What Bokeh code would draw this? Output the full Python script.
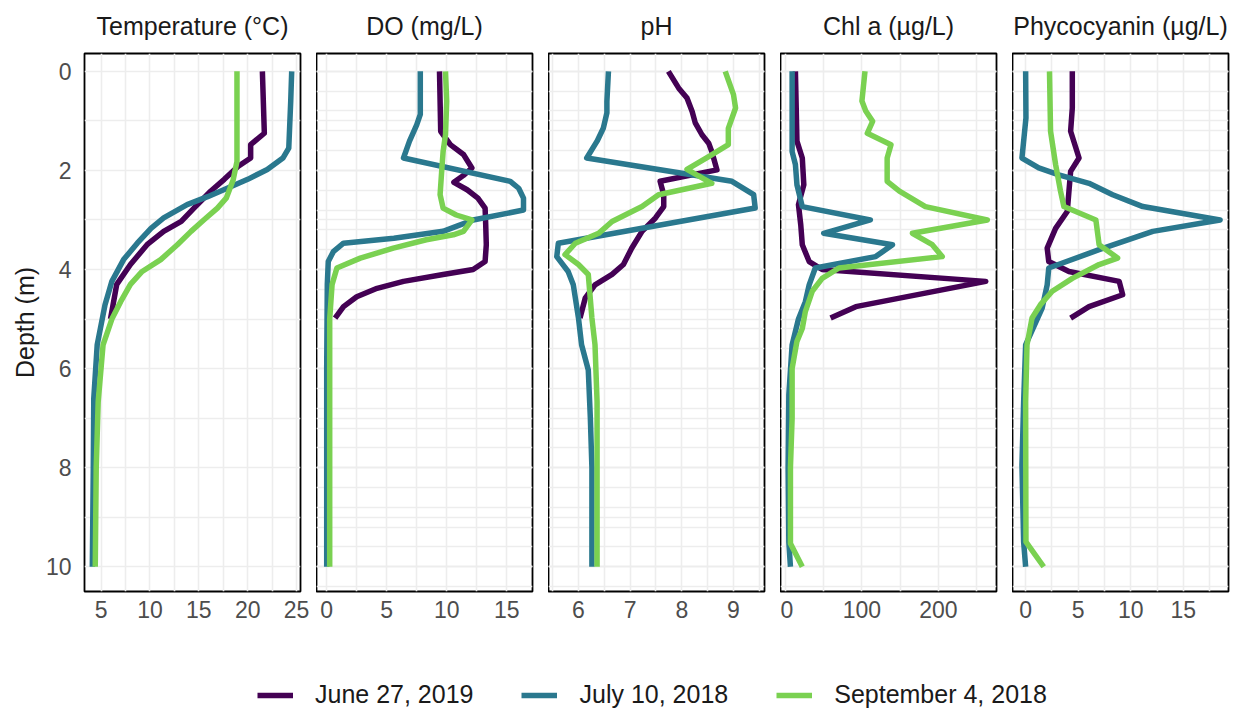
from bokeh.plotting import figure
from bokeh.models import Range1d, FixedTicker, Grid, Legend, LegendItem
from bokeh.layouts import column, row
from bokeh.embed import file_html
from bokeh.resources import INLINE

# ---- profile data (depth in m, value per variable) ----
dates = ["June 27, 2019", "July 10, 2018", "September 4, 2018"]

# Temperature (°C)
temp_jun_depth = [0, 1.25, 1.48, 1.75, 1.92, 2.18, 2.42, 2.76, 3.03, 3.23, 3.5, 3.9, 4.3, 5.0]
temp_jun = [21.5, 21.7, 20.3, 20.3, 19.0, 17.6, 16.2, 14.5, 13.2, 11.4, 9.7, 8.0, 6.6, 5.96]
temp_jul_depth = [0, 0.6, 1.55, 1.75, 1.98, 2.18, 2.36, 2.53, 2.69, 2.96, 3.17, 3.47, 3.8, 4.24, 4.71, 5.52, 6.6, 8.0, 10]
temp_jul = [24.5, 24.4, 24.2, 23.6, 22.0, 20.0, 17.9, 15.9, 13.8, 11.4, 10.1, 8.7, 7.3, 6.1, 5.4, 4.6, 4.25, 4.2, 4.1]
temp_sep_depth = [0, 1.82, 2.2, 2.56, 2.76, 3.0, 3.23, 3.5, 3.8, 4.04, 4.3, 4.65, 5.0, 5.52, 6.67, 8.0, 10]
temp_sep = [18.9, 18.9, 18.5, 17.8, 16.9, 15.5, 14.2, 12.8, 11.1, 9.2, 8.0, 7.0, 6.1, 5.2, 4.7, 4.5, 4.4]

# Dissolved oxygen (mg/L)
do_jun_depth = [0, 1.21, 1.48, 1.68, 1.95, 2.1, 2.24, 2.39, 2.56, 2.76, 3.09, 3.5, 3.84, 4.0, 4.1, 4.24, 4.38, 4.55, 4.75, 4.98]
do_jun = [9.4, 9.5, 10.3, 11.4, 12.1, 11.4, 10.6, 11.7, 12.6, 13.2, 13.25, 13.3, 13.2, 12.2, 9.7, 6.4, 4.2, 2.5, 1.4, 0.7]
do_jul_depth = [0, 0.87, 1.08, 1.41, 1.75, 2.22, 2.36, 2.56, 2.8, 3.0, 3.13, 3.23, 3.37, 3.47, 3.64, 3.84, 4.3, 6.0, 8.0, 10]
do_jul = [7.8, 7.8, 7.5, 6.9, 6.4, 15.3, 16.0, 16.4, 16.4, 12.2, 10.8, 9.7, 5.6, 1.4, 0.55, 0.13, 0.05, 0.0, 0.0, 0.0]
do_sep_depth = [0, 0.6, 1.28, 1.62, 1.95, 2.49, 2.76, 2.9, 3.0, 3.23, 3.3, 3.4, 3.57, 3.77, 3.97, 4.3, 5.0, 7.0, 10]
do_sep = [9.9, 10.0, 9.9, 9.7, 9.6, 9.45, 9.7, 10.8, 12.1, 11.4, 10.55, 8.3, 5.55, 2.8, 0.85, 0.45, 0.25, 0.25, 0.25]

# pH
ph_jun_depth = [0, 0.34, 0.54, 0.81, 1.04, 1.28, 1.45, 1.62, 1.99, 2.22, 2.49, 2.73, 2.96, 3.23, 3.57, 3.9, 4.1, 4.31, 4.58, 4.98]
ph_jun = [7.74, 7.94, 8.1, 8.2, 8.26, 8.39, 8.52, 8.58, 8.68, 7.58, 7.65, 7.65, 7.49, 7.23, 7.03, 6.87, 6.65, 6.32, 6.13, 6.03]
ph_jul_depth = [0, 0.61, 0.84, 1.15, 1.41, 1.75, 2.22, 2.49, 2.76, 3.47, 3.74, 4.04, 4.31, 4.98, 5.52, 6.03, 7.0, 8.0, 10]
ph_jul = [6.58, 6.55, 6.55, 6.48, 6.36, 6.16, 8.97, 9.39, 9.42, 5.61, 5.58, 5.8, 5.9, 6.0, 6.06, 6.19, 6.23, 6.26, 6.26]
ph_sep_depth = [0, 0.47, 0.74, 1.15, 1.48, 1.72, 1.98, 2.26, 2.49, 2.73, 3.03, 3.27, 3.47, 3.7, 3.9, 4.1, 4.98, 5.52, 6.67, 10]
ph_sep = [8.84, 9.0, 9.04, 8.9, 8.9, 8.52, 8.1, 8.58, 7.55, 7.23, 6.65, 6.39, 5.94, 5.74, 6.0, 6.19, 6.26, 6.32, 6.36, 6.36]

# Chlorophyll a (µg/L)
chl_jun_depth = [0, 1.41, 1.75, 2.29, 2.69, 3.1, 3.5, 3.84, 4.0, 4.24, 4.75, 4.98]
chl_jun = [13, 15, 22, 24, 17, 20, 22, 31, 48, 262, 92, 59]
chl_jul_depth = [0, 1.62, 1.88, 2.29, 2.73, 3.0, 3.27, 3.5, 3.74, 3.97, 4.31, 4.65, 5.0, 5.52, 6.53, 8.0, 9.5, 10]
chl_jul = [8.7, 8.7, 13, 15, 22, 111, 50, 140, 118, 39, 31, 26, 17, 8.7, 4.4, 3.5, 4.4, 6.5]
chl_sep_depth = [0, 0.6, 0.8, 1.01, 1.25, 1.48, 1.75, 2.22, 2.42, 2.73, 3.0, 3.27, 3.5, 3.74, 3.97, 4.18, 4.44, 4.85, 5.19, 5.45, 6.0, 7.0, 8.0, 9.53, 10]
chl_sep = [104, 100, 105, 114, 107, 138, 133, 133, 149, 183, 264, 166, 192, 205, 70, 48, 35, 26, 22, 15, 8.7, 8.7, 6.5, 6.5, 22]

# Phycocyanin (µg/L)
pc_jun_depth = [0, 0.74, 1.21, 1.75, 2.02, 2.42, 2.83, 3.17, 3.57, 3.84, 4.04, 4.24, 4.51, 4.75, 4.98]
pc_jun = [4.44, 4.44, 4.28, 5.08, 4.28, 4.12, 3.96, 2.85, 2.05, 2.2, 4.12, 8.9, 9.23, 6.03, 4.28]
pc_jul_depth = [0, 0.94, 1.75, 1.95, 2.09, 2.26, 2.49, 2.73, 3.0, 3.23, 3.6, 3.97, 4.31, 4.78, 5.52, 6.67, 7.95, 9.5, 10]
pc_jul = [0, 0.03, -0.35, 1.25, 3.16, 6.03, 8.28, 11.15, 18.5, 12.1, 6.99, 2.2, 2.05, 1.57, 0, -0.19, -0.35, -0.19, 0]
pc_sep_depth = [0, 1.21, 1.88, 2.42, 2.73, 3.0, 3.5, 3.77, 3.9, 4.18, 4.44, 4.71, 4.98, 5.52, 6.67, 9.5, 10]
pc_sep = [2.27, 2.37, 2.85, 3.32, 3.64, 6.68, 6.99, 8.75, 6.99, 4.44, 2.53, 1.41, 0.61, 0.13, 0, 0.03, 1.72]

# axis ticks
depth_ticks = [0, 2, 4, 6, 8, 10]
depth_minor = [1, 3, 5, 7, 9]

panels = [
    dict(title="Temperature (°C)",
         series=[(temp_jun_depth, temp_jun), (temp_jul_depth, temp_jul), (temp_sep_depth, temp_sep)],
         xr=(3.3, 25.4), ticks=[5, 10, 15, 20, 25], minor=[7.5, 12.5, 17.5, 22.5]),
    dict(title="DO (mg/L)",
         series=[(do_jun_depth, do_jun), (do_jul_depth, do_jul), (do_sep_depth, do_sep)],
         xr=(-0.85, 17.15), ticks=[0, 5, 10, 15], minor=[2.5, 7.5, 12.5]),
    dict(title="pH",
         series=[(ph_jun_depth, ph_jun), (ph_jul_depth, ph_jul), (ph_sep_depth, ph_sep)],
         xr=(5.42, 9.6), ticks=[6, 7, 8, 9], minor=[5.5, 6.5, 7.5, 8.5, 9.5]),
    dict(title="Chl a (µg/L)",
         series=[(chl_jun_depth, chl_jun), (chl_jul_depth, chl_jul), (chl_sep_depth, chl_sep)],
         xr=(-6.5, 276), ticks=[0, 100, 200], minor=[50, 150, 250]),
    dict(title="Phycocyanin (µg/L)",
         series=[(pc_jun_depth, pc_jun), (pc_jul_depth, pc_jul), (pc_sep_depth, pc_sep)],
         xr=(-1.25, 19.3), ticks=[0, 5, 10, 15], minor=[2.5, 7.5, 12.5, 17.5]),
]

COLORS = ["#440154", "#2A788E", "#7AD151"]
FONT = "Liberation Sans"
GRID = "#EDEDED"
TEXT = "#4D4D4D"
LINE_W = 5.5


def style_grid(g):
    g.grid_line_color = GRID
    g.grid_line_width = 1.6
    g.minor_grid_line_color = GRID
    g.minor_grid_line_width = 1.6


def make_panel(spec, first, last):
    p = figure(
        frame_width=216, frame_height=538,
        x_range=Range1d(*spec["xr"]), y_range=Range1d(10.5, -0.36),
        output_backend="svg", toolbar_location=None,
        min_border_left=84 if first else 0,
        min_border_right=9 if last else 16,
        min_border_top=52, min_border_bottom=34,
        y_axis_location="left" if first else None,
        title=spec["title"],
    )
    p.background_fill_color = "white"
    p.border_fill_color = "white"
    p.outline_line_color = "black"
    p.outline_line_width = 1.8

    p.title.align = "center"
    p.title.vertical_align = "top"
    p.title.text_font = FONT
    p.title.text_font_size = "25px"
    p.title.text_font_style = "normal"
    p.title.text_color = "#1A1A1A"
    p.title.standoff = 23

    xt = FixedTicker(ticks=spec["ticks"], minor_ticks=spec["minor"])
    p.xaxis.ticker = xt
    p.xgrid.ticker = xt
    yt = FixedTicker(ticks=depth_ticks, minor_ticks=depth_minor)
    if first:
        p.yaxis.ticker = yt
        p.ygrid.ticker = yt
        p.yaxis.axis_label = "Depth (m)"
        p.yaxis.axis_label_text_font = FONT
        p.yaxis.axis_label_text_font_size = "25px"
        p.yaxis.axis_label_text_font_style = "normal"
        p.yaxis.axis_label_text_color = "#1A1A1A"
        p.yaxis.axis_label_standoff = 4
    else:
        p.add_layout(Grid(dimension=1, ticker=yt))
    for g in p.grid:
        style_grid(g)

    for ax in p.axis:
        ax.axis_line_color = None
        ax.major_tick_line_color = None
        ax.minor_tick_line_color = None
        ax.major_label_text_font = FONT
        ax.major_label_text_font_size = "23px"
        ax.major_label_text_color = TEXT
        ax.major_label_standoff = 3
    if first:
        p.yaxis.major_label_standoff = 7

    for (depth, vals), color in zip(spec["series"], COLORS):
        p.line(x=vals, y=depth, line_color=color, line_width=LINE_W,
               line_join="round", line_cap="butt")
    return p


figs = [make_panel(s, i == 0, i == len(panels) - 1) for i, s in enumerate(panels)]

# legend strip along the bottom; its lines sit outside the visible range
lf = figure(width=1237, height=86, output_backend="svg", toolbar_location=None,
            min_border=0, x_axis_location=None, y_axis_location=None,
            x_range=Range1d(-3, -2), y_range=Range1d(-3, -2))
lf.outline_line_color = None
lf.xgrid.visible = False
lf.ygrid.visible = False
items = []
for label, (depth, vals), color in zip(dates, panels[0]["series"], COLORS):
    r = lf.line(x=vals, y=depth, line_color=color, line_width=LINE_W)
    items.append(LegendItem(label=label, renderers=[r]))
legend = Legend(items=items, orientation="horizontal", location=(257, 2),
                glyph_width=36, glyph_height=24, label_height=24,
                label_standoff=22, spacing=48, padding=4,
                border_line_color=None, background_fill_alpha=0,
                label_text_font=FONT, label_text_font_size="25px",
                label_text_color="#1A1A1A")
lf.add_layout(legend)

layout = column(row(*figs), lf)

open("out.html", "w").write(file_html(layout, INLINE))
